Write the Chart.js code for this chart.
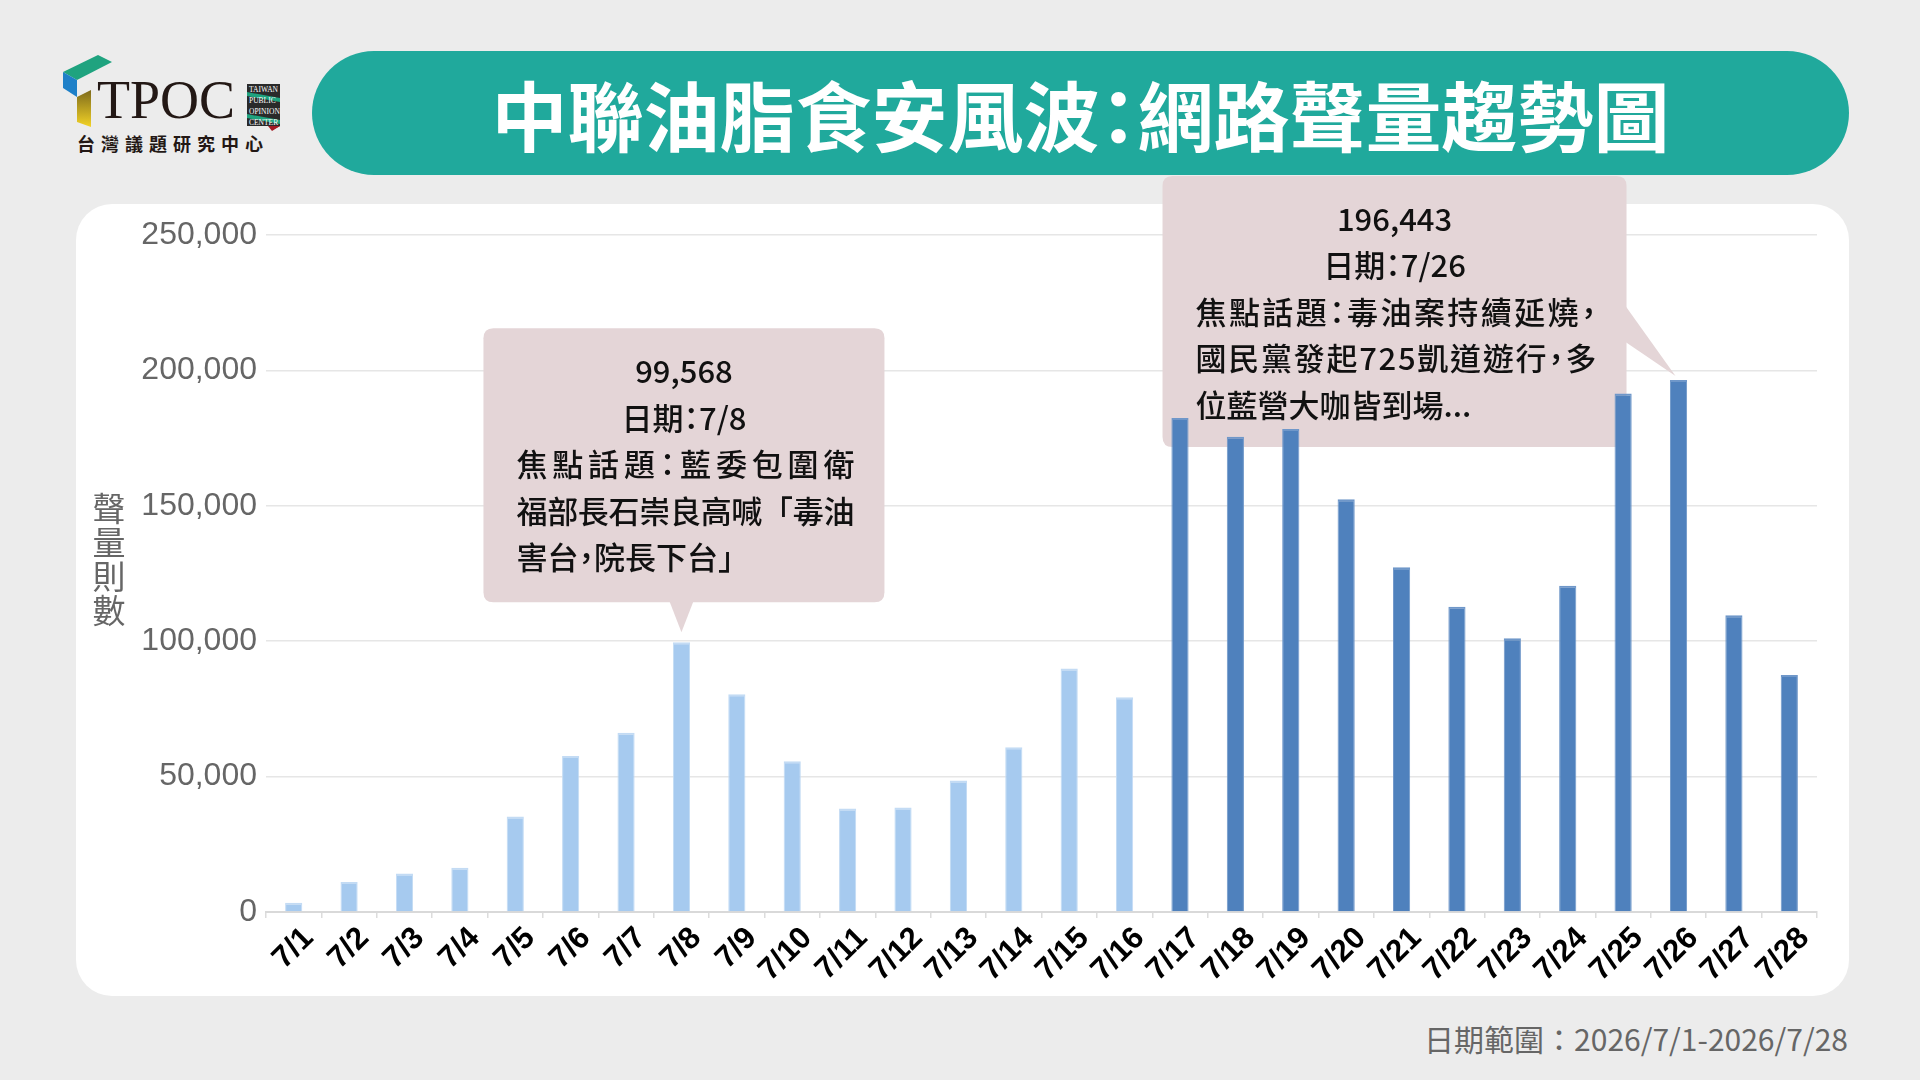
<!DOCTYPE html>
<html>
<head>
    <meta charset="utf-8">
    <title>中聯油脂食安風波：網路聲量趨勢圖</title>
    <script src="https://cdn.jsdelivr.net/npm/chart.js"></script>
    <style>
        body{
            margin: 0;
            width: 1920px;
            height: 1080px;
            overflow: hidden;
            background: #ececec;
            font-family: "Noto Sans CJK TC", "Noto Sans", sans-serif;
            position: relative;
        }
        .logo{ position: absolute; left: 0; top: 0; }
        .titulo{
            position: absolute;
            left: 312px; top: 51px;
            width: 1537px; height: 124px;
            border-radius: 62px;
            background: #20a99c;
            color: #fff;
            font-weight: 700;
            font-size: 76px;
            font-feature-settings: "palt";
            line-height: 124px;
            text-align: center;
        }
        .cartao{
            position: absolute;
            left: 76px; top: 204px;
            width: 1773px; height: 792px;
            border-radius: 36px;
            background: #fff;
        }
        .rodape{
            position: absolute;
            right: 72px; top: 1016px;
            font-size: 30px;
            color: #666;
        }
        #grafico{ position: absolute; left: 0; top: 0; }
    </style>
</head>
<body>
    <svg class="logo" width="300" height="170">
        <defs>
            <linearGradient id="amarelo" x1="0" y1="0" x2="0" y2="1">
                <stop offset="0" stop-color="#7d6a1c"/>
                <stop offset="1" stop-color="#f3d326"/>
            </linearGradient>
        </defs>
        <polygon points="63,72 98,55 112,62 77,80" fill="#1fa37f"/>
        <polygon points="63,72 77,80 77,97 63,88" fill="#1e80c8"/>
        <polygon points="77,97 91,90 91,127 77,122" fill="url(#amarelo)"/>
        <text x="97" y="118" font-family="Liberation Serif" font-size="54" fill="#231815">TPOC</text>
        <polygon points="247,84 280,84 280,126 272,130 272,126 247,126" fill="#2a2a2a"/>
        <polygon points="247,92 280,98 280,102 247,96" fill="#1fa37f"/>
        <polygon points="247,114 280,120 280,124 247,118" fill="#1fa37f"/>
        <polygon points="268,126 280,126 272,131" fill="#a31a22"/>
        <g font-family="Liberation Serif" font-size="7.5" fill="#fff">
            <text x="249" y="92">TAIWAN</text>
            <text x="249" y="103">PUBLIC</text>
            <text x="249" y="114">OPINION</text>
            <text x="249" y="125">CENTER</text>
        </g>
        <text x="77" y="151" font-size="18" font-weight="700" letter-spacing="6" fill="#231815">台灣議題研究中心</text>
    </svg>

    <div class="titulo">中聯油脂食安風波：網路聲量趨勢圖</div>
    <div class="cartao"></div>
    <div class="rodape">日期範圍：2026/7/1-2026/7/28</div>

    <canvas id="grafico" width="1920" height="1080"></canvas>

    <script>
        // dados
        const datas = ['7/1','7/2','7/3','7/4','7/5','7/6','7/7','7/8','7/9','7/10',
            '7/11','7/12','7/13','7/14','7/15','7/16','7/17','7/18','7/19','7/20',
            '7/21','7/22','7/23','7/24','7/25','7/26','7/27','7/28'];
        const volumes = [3400, 11100, 14200, 16300, 35300, 57600, 66200, 99568, 80400, 55700,
            38200, 38600, 48600, 60800, 89900, 79300, 182400, 175500, 178400, 152400,
            127300, 112700, 101100, 120500, 191500, 196443, 109600, 87500];
        const ticksY = [0, 50000, 100000, 150000, 200000, 250000];
        const tituloY = ['聲', '量', '則', '數'];

        const inicioDestaque = 16; // a partir de 7/17 as barras ficam escuras
        const corClara = '#a6caef';
        const corEscura = '#4f81bd';

        const balao1Linhas = ['99,568', '日期：7/8', '焦點話題：藍委包圍衛', '福部長石崇良高喊「毒油', '害台，院長下台」'];
        const balao2Linhas = ['196,443', '日期：7/26', '焦點話題：毒油案持續延燒，', '國民黨發起725凱道遊行，多', '位藍營大咖皆到場...'];

        const baloes = [
            { indice: 7, linhas: balao1Linhas, dx: 0, dy: -10, caixa: [-198, -304, 401, 274], ponta: 'baixo' },
            { indice: 25, linhas: balao2Linhas, dx: -3, dy: -4, caixa: [-513, -200, 464, 271], ponta: 'direita' }
        ];

        // pontuação de meia largura (como o "palt" da fonte); TC centraliza a vírgula
        const meiaLargura = { '：': -0.25, '，': -0.25, '」': 0 };

        function medirChars(ctx, chars, em) {
            return chars.map(c => c in meiaLargura ? em / 2 : ctx.measureText(c).width);
        }

        function escreverLinha(ctx, linha, x, y, em, modo, largura) {
            const chars = Array.from(linha);
            const w = medirChars(ctx, chars, em);
            const total = w.reduce((a, v) => a + v, 0);
            let gap = 0;
            let cx = x;
            if (modo === 'centro') cx = x - total / 2;
            if (modo === 'justificar') gap = (largura - total) / (chars.length - 1);
            ctx.textAlign = 'left';
            chars.forEach((c, k) => {
                const desloc = c in meiaLargura ? meiaLargura[c] * em : 0;
                ctx.fillText(c, cx + desloc, y);
                cx += w[k] + gap;
            });
        }

        function caminhoArredondado(ctx, x, y, w, h, r) {
            ctx.beginPath();
            ctx.moveTo(x + r, y);
            ctx.lineTo(x + w - r, y);
            ctx.quadraticCurveTo(x + w, y, x + w, y + r);
            ctx.lineTo(x + w, y + h - r);
            ctx.quadraticCurveTo(x + w, y + h, x + w - r, y + h);
            ctx.lineTo(x + r, y + h);
            ctx.quadraticCurveTo(x, y + h, x, y + h - r);
            ctx.lineTo(x, y + r);
            ctx.quadraticCurveTo(x, y, x + r, y);
            ctx.closePath();
        }

        const pluginBaloes = {
            id: 'baloes',
            beforeDatasetsDraw(chart) {
                const ctx = chart.ctx;
                const meta = chart.getDatasetMeta(0);
                const area = chart.chartArea;

                // titulo do eixo Y, caracteres empilhados
                ctx.save();
                ctx.fillStyle = '#666';
                ctx.font = '33px "Noto Sans CJK TC"';
                ctx.textAlign = 'center';
                ctx.textBaseline = 'middle';
                tituloY.forEach((c, i) => {
                    ctx.fillText(c, area.left - 157, 508 + i * 34);
                });
                ctx.restore();

                baloes.forEach(b => {
                    const barra = meta.data[b.indice];
                    const tx = barra.x + b.dx;
                    const ty = barra.y + b.dy;
                    const x = tx + b.caixa[0], y = ty + b.caixa[1];
                    const w = b.caixa[2], h = b.caixa[3];

                    ctx.save();
                    ctx.fillStyle = '#e4d5d7';
                    caminhoArredondado(ctx, x, y, w, h, 10);
                    ctx.fill();
                    ctx.beginPath();
                    if (b.ponta === 'baixo') {
                        ctx.moveTo(tx - 12, y + h - 1);
                        ctx.lineTo(tx + 12, y + h - 1);
                    } else {
                        ctx.moveTo(x + w - 1, ty - 70);
                        ctx.lineTo(x + w - 1, ty - 34);
                    }
                    ctx.lineTo(tx, ty);
                    ctx.closePath();
                    ctx.fill();

                    ctx.fillStyle = '#111';
                    const em = 31;
                    ctx.font = '500 ' + em + 'px "Noto Sans CJK TC"';
                    ctx.textBaseline = 'middle';
                    const esq = x + 33, dir = x + w - 30;
                    b.linhas.forEach((linha, i) => {
                        const ly = y + 43 + i * 46.5;
                        if (i < 2) {
                            escreverLinha(ctx, linha, x + w / 2, ly, em, 'centro');
                        } else if (i < 4) {
                            escreverLinha(ctx, linha, esq, ly, em, 'justificar', dir - esq);
                        } else {
                            escreverLinha(ctx, linha, esq, ly, em, 'esquerda');
                        }
                    });
                    ctx.restore();
                });
            }
        };

        const canvas = document.getElementById('grafico');
        const grafico = new Chart(canvas.getContext('2d'), {
            type: 'bar',
            data: {
                labels: datas,
                datasets: [{
                    label: '聲量則數',
                    data: volumes,
                    backgroundColor: ctx => ctx.dataIndex < inicioDestaque ? corClara : corEscura,
                    borderColor: ctx => ctx.dataIndex < inicioDestaque ? '#c3dbf4' : '#6f97c9',
                    borderWidth: { top: 2, left: 1, right: 1, bottom: 0 },
                    barPercentage: 0.31,
                    categoryPercentage: 1
                }]
            },
            options: {
                responsive: false,
                animation: false,
                devicePixelRatio: 1,
                layout: {
                    padding: { left: 100, right: 103, top: 235, bottom: 98 }
                },
                plugins: {
                    legend: { display: false },
                    tooltip: { enabled: false }
                },
                scales: {
                    x: {
                        afterFit: scale => { scale.height = 70; },
                        border: { color: '#d9d9d9', width: 2 },
                        grid: {
                            drawOnChartArea: false,
                            drawTicks: true,
                            tickLength: 6,
                            color: '#dcdcdc',
                            lineWidth: 1.5
                        },
                        ticks: {
                            minRotation: 45,
                            maxRotation: 45,
                            autoSkip: false,
                            padding: 2,
                            labelOffset: 15,
                            color: '#000',
                            font: { family: '"Liberation Sans", Arial', size: 31, weight: 'bold' }
                        }
                    },
                    y: {
                        min: 0,
                        max: 250000,
                        afterFit: scale => { scale.width = 166; },
                        afterBuildTicks: scale => { scale.ticks = ticksY.map(v => ({ value: v })); },
                        border: { display: false },
                        grid: {
                            drawTicks: false,
                            color: '#e6e6e6',
                            lineWidth: 1.5
                        },
                        ticks: {
                            padding: 9,
                            color: '#666',
                            font: { family: '"Liberation Sans", Arial', size: 32 },
                            callback: v => v.toLocaleString('en-US')
                        }
                    }
                }
            },
            plugins: [pluginBaloes]
        });
    </script>
</body>
</html>
